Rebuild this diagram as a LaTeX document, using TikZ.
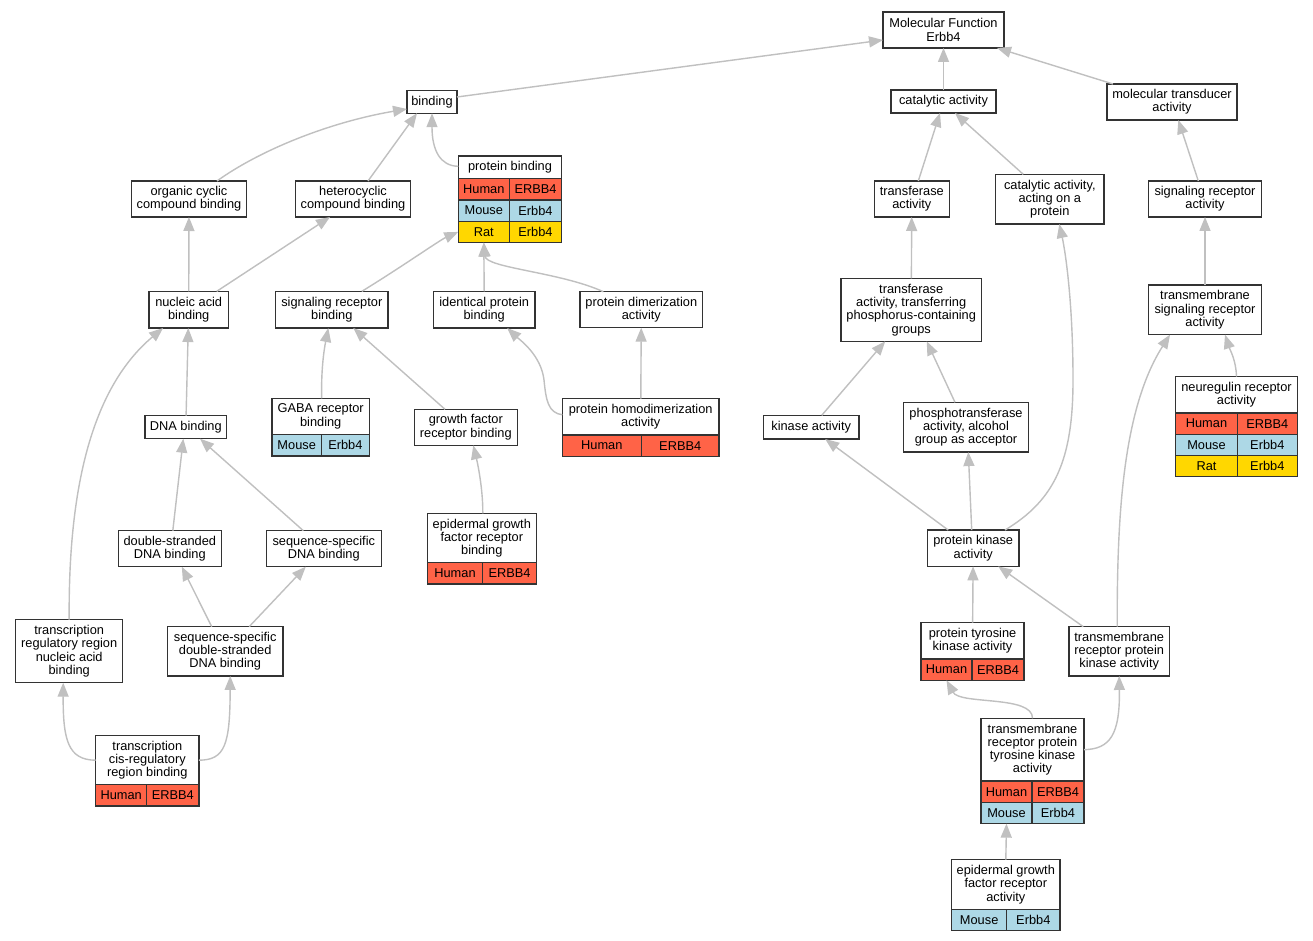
\documentclass[tikz,border=0pt]{standalone}
\usepackage{fontspec}
\setmainfont{Liberation Sans}
\usetikzlibrary{arrows.meta, positioning}
\definecolor{humanred}{HTML}{FF6347}
\definecolor{mouseblue}{HTML}{ADD8E6}
\definecolor{ratgold}{HTML}{FFD700}
\definecolor{isagray}{HTML}{C0C0C0}
\tikzset{
    term/.style={
        rectangle, draw=black!80, line width=1.2pt,
        fill=white, align=center, inner sep=1pt, outer sep=0pt,
        font=\fontsize{12.8}{13.3}\selectfont
    },
    cell/.style={term, minimum height=21.3pt, anchor=north west},
    human/.style={cell, fill=humanred},
    mouse/.style={cell, fill=mouseblue},
    rat/.style={cell, fill=ratgold},
    isa/.style={draw=isagray, line width=1.4pt, -{Triangle[length=14pt,width=11pt]}}
}

\begin{document}
\begin{tikzpicture}[x=1pt, y=-1pt]

\fill[white] (0,0) rectangle (1313,941);
\useasboundingbox (0,0) rectangle (1313,941);

% Root and first level
\node[term, minimum width=121pt, minimum height=36pt] (mf) at (943.5,30) {Molecular Function\\Erbb4};
\node[term, minimum width=105pt, minimum height=23pt] (cat) at (943.5,101.5) {catalytic activity};
\node[term, minimum width=130pt, minimum height=36pt] (mtrans) at (1172,102) {molecular transducer\\activity};
\node[term, minimum width=50pt, minimum height=22.5pt] (bind) at (432,102) {binding};

% Second level
\node[term, minimum width=115pt, minimum height=36pt] (orgcyc) at (189,199) {organic cyclic\\compound binding};
\node[term, minimum width=115pt, minimum height=36pt] (hetcyc) at (353,199) {heterocyclic\\compound binding};
\node[term, minimum width=75pt, minimum height=36pt] (transf) at (911.8,199) {transferase\\activity};
\node[term, minimum width=108.3pt, minimum height=49.7pt] (catprot) at (1049.8,199.2) {catalytic activity,\\acting on a\\protein};
\node[term, minimum width=112.6pt, minimum height=36pt] (sigract) at (1205,199) {signaling receptor\\activity};

% Protein binding table
\node[term, minimum width=103.4pt, minimum height=22.7pt] (pb) at (510,167.3) {protein binding};
\node[human, minimum width=51pt] (pbh) at (pb.south west) {Human};
\node[human, minimum width=52.4pt] (pbhg) at (pbh.north east) {ERBB4};
\node[mouse, minimum width=51pt] (pbm) at (pbh.south west) {Mouse};
\node[mouse, minimum width=52.4pt] (pbmg) at (pbm.north east) {Erbb4};
\node[rat, minimum width=51pt] (pbr) at (pbm.south west) {Rat};
\node[rat, minimum width=52.4pt] (pbrg) at (pbr.north east) {Erbb4};

% Third level
\node[term, minimum width=79.3pt, minimum height=36.7pt] (nucacid) at (188.7,309.7) {nucleic acid\\binding};
\node[term, minimum width=112.3pt, minimum height=36.7pt] (sigrbind) at (331.8,309.7) {signaling receptor\\binding};
\node[term, minimum width=101.7pt, minimum height=36.7pt] (identprot) at (484.2,309.7) {identical protein\\binding};
\node[term, minimum width=122.7pt, minimum height=36pt] (protdimer) at (641.3,309.7) {protein dimerization\\activity};
\node[term, minimum width=140.3pt, minimum height=63pt] (transphos) at (911.2,309.8) {transferase\\activity, transferring\\phosphorus-containing\\groups};
\node[term, minimum width=112.6pt, minimum height=49.7pt] (tmsigr) at (1205,309.8) {transmembrane\\signaling receptor\\activity};

% Fourth level
\node[term, minimum width=81.7pt, minimum height=23pt] (dnabind) at (185.8,427.2) {DNA binding};
\node[term, minimum width=97.3pt, minimum height=36.4pt] (gaba) at (320.7,416.5) {GABA receptor\\binding};
\node[mouse, minimum width=49.3pt] (gabam) at (gaba.south west) {Mouse};
\node[mouse, minimum width=48pt] (gabamg) at (gabam.north east) {Erbb4};
\node[term, minimum width=103pt, minimum height=36pt] (gfrb) at (465.8,427.3) {growth factor\\receptor binding};
\node[term, minimum width=156.7pt, minimum height=36.3pt] (homodim) at (640.7,416.8) {protein homodimerization\\activity};
\node[human, minimum width=79pt] (homodimh) at (homodim.south west) {Human};
\node[human, minimum width=77.7pt] (homodimhg) at (homodimh.north east) {ERBB4};
\node[term, minimum width=95.7pt, minimum height=23.7pt] (kinase) at (811.2,427.2) {kinase activity};
\node[term, minimum width=124.6pt, minimum height=49.7pt] (phostr) at (966,427.2) {phosphotransferase\\activity, alcohol\\group as acceptor};
\node[term, minimum width=121.6pt, minimum height=36.3pt] (nrg) at (1236.5,394.8) {neuregulin receptor\\activity};
\node[human, minimum width=61.6pt] (nrgh) at (nrg.south west) {Human};
\node[human, minimum width=60pt] (nrghg) at (nrgh.north east) {ERBB4};
\node[mouse, minimum width=61.6pt] (nrgm) at (nrgh.south west) {Mouse};
\node[mouse, minimum width=60pt] (nrgmg) at (nrgm.north east) {Erbb4};
\node[rat, minimum width=61.6pt] (nrgr) at (nrgm.south west) {Rat};
\node[rat, minimum width=60pt] (nrgrg) at (nrgr.north east) {Erbb4};

% Fifth level
\node[term, minimum width=103pt, minimum height=36pt] (dsdna) at (169.8,548.7) {double-stranded\\DNA binding};
\node[term, minimum width=115pt, minimum height=36pt] (ssdna) at (323.8,548.7) {sequence-specific\\DNA binding};
\node[term, minimum width=109pt, minimum height=49.4pt] (egfrb) at (481.8,538) {epidermal growth\\factor receptor\\binding};
\node[human, minimum width=55.4pt] (egfrbh) at (egfrb.south west) {Human};
\node[human, minimum width=53.6pt] (egfrbhg) at (egfrbh.north east) {ERBB4};
\node[term, minimum width=91.7pt, minimum height=36.3pt] (pka) at (973.2,548.2) {protein kinase\\activity};

% Sixth level
\node[term, minimum width=107pt, minimum height=63pt] (trrnab) at (69.2,651.2) {transcription\\regulatory region\\nucleic acid\\binding};
\node[term, minimum width=115.7pt, minimum height=49.3pt] (ssdsdna) at (225.2,651.3) {sequence-specific\\double-stranded\\DNA binding};
\node[term, minimum width=103pt, minimum height=36.3pt] (ptk) at (972.5,640.8) {protein tyrosine\\kinase activity};
\node[human, minimum width=51pt] (ptkh) at (ptk.south west) {Human};
\node[human, minimum width=52pt] (ptkhg) at (ptkh.north east) {ERBB4};
\node[term, minimum width=100.3pt, minimum height=49.3pt] (tmrpk) at (1119.2,651.3) {transmembrane\\receptor protein\\kinase activity};

% Bottom levels
\node[term, minimum width=103.3pt, minimum height=49pt] (tcrrb) at (147.3,760.2) {transcription\\cis-regulatory\\region binding};
\node[human, minimum width=51pt] (tcrrbh) at (tcrrb.south west) {Human};
\node[human, minimum width=52.3pt] (tcrrbhg) at (tcrrbh.north east) {ERBB4};
\node[term, minimum width=103pt, minimum height=62.7pt] (tmrptk) at (1032.5,749.7) {transmembrane\\receptor protein\\tyrosine kinase\\activity};
\node[human, minimum width=51pt] (tmrptkh) at (tmrptk.south west) {Human};
\node[human, minimum width=52pt] (tmrptkhg) at (tmrptkh.north east) {ERBB4};
\node[mouse, minimum width=51pt] (tmrptkm) at (tmrptkh.south west) {Mouse};
\node[mouse, minimum width=52pt] (tmrptkmg) at (tmrptkm.north east) {Erbb4};
\node[term, minimum width=108.3pt, minimum height=49.6pt] (egfra) at (1005.8,884.5) {epidermal growth\\factor receptor\\activity};
\node[mouse, minimum width=55pt] (egfram) at (egfra.south west) {Mouse};
\node[mouse, minimum width=53.3pt] (egframg) at (egfram.north east) {Erbb4};

% is_a edges
\draw[isa] ([yshift=5pt]bind.east) -- ([yshift=-10pt]mf.west);
\draw[isa] (cat) -- (mf);
\draw[isa] ([xshift=6pt]mtrans.north west) -- ([xshift=-7pt]mf.south east);
\draw[isa] ([xshift=28pt]orgcyc.north) .. controls (260,150) and (330,122) .. ([yshift=-7pt]bind.west);
\draw[isa] ([xshift=15pt]hetcyc.north) -- ([xshift=-15pt]bind.south);
\draw[isa] ([yshift=1pt]pb.west) .. controls (440,166) and (432,150) .. (bind.south);
\draw[isa] ([xshift=6.5pt]transf.north) -- ([xshift=-3.5pt]cat.south);
\draw[isa] ([xshift=-26.5pt]catprot.north) -- ([xshift=11.5pt]cat.south);
\draw[isa] ([xshift=-6.7pt]sigract.north) -- ([xshift=6.3pt]mtrans.south);
\draw[isa] (nucacid) -- (orgcyc);
\draw[isa] ([xshift=28pt]nucacid.north) -- ([xshift=-23pt]hetcyc.south);
\draw[isa] ([xshift=30pt]sigrbind.north) .. controls (400,268) and (440,240) .. (pbr.west);
\draw[isa] (identprot.north) -- (pbr.south);
\draw[isa] ([xshift=-38pt]protdimer.north) .. controls (560,272) and (486,268) .. (pbr.south);
\draw[isa] (transphos) -- (transf);
\draw[isa] ([xshift=31.8pt]pka.north) .. controls (1055,500) and (1073,460) .. (1073,380) .. controls (1073,300) and (1065,250) .. ([xshift=9.5pt]catprot.south);
\draw[isa] (tmsigr) -- (sigract);
\draw[isa] ([xshift=1pt]gaba.north) .. controls (321,370) and (324,350) .. ([xshift=-3.5pt]sigrbind.south);
\draw[isa] ([xshift=-20.8pt]gfrb.north) -- ([xshift=21.5pt]sigrbind.south);
\draw[isa] ([yshift=2pt]homodim.west) .. controls (548,413) and (546,400) .. (544,380) .. controls (541,355) and (520,340) .. ([xshift=23pt]identprot.south);
\draw[isa] (homodim) -- (protdimer);
\draw[isa] (dnabind) -- (nucacid);
\draw[isa] (trrnab.north) .. controls (68,480) and (95,385) .. ([xshift=14pt]nucacid.south west);
\draw[isa] ([xshift=10.5pt]kinase.north) -- ([xshift=-26pt]transphos.south);
\draw[isa] ([xshift=-11pt]phostr.north) -- ([xshift=15.5pt]transphos.south);
\draw[isa] ([xshift=3pt]dsdna.north) -- ([xshift=-2.5pt]dnabind.south);
\draw[isa] ([xshift=-20.5pt]ssdna.north) -- ([xshift=14.2pt]dnabind.south);
\draw[isa] ([xshift=1pt]egfrb.north) .. controls (483,490) and (478,465) .. ([xshift=7.5pt]gfrb.south);
\draw[isa] ([xshift=-25pt]pka.north) -- ([xshift=14pt]kinase.south);
\draw[isa] ([xshift=-1.5pt]pka.north) -- ([xshift=2.3pt]phostr.south);
\draw[isa] ([xshift=-36pt]tmrpk.north) -- ([xshift=25pt]pka.south);
\draw[isa] ([xshift=-2pt]tmrpk.north) .. controls (1117,520) and (1122,410) .. ([xshift=-35pt]tmsigr.south);
\draw[isa] (nrg.north) .. controls (1236,360) and (1230,350) .. ([xshift=20pt]tmsigr.south);
\draw[isa] (ptk) -- (pka);
\draw[isa] ([xshift=-13.5pt]ssdsdna.north) -- ([xshift=12pt]dsdna.south);
\draw[isa] ([xshift=24pt]ssdsdna.north) -- ([xshift=-18pt]ssdna.south);
\draw[isa] (tcrrb.west) .. controls (68,760) and (63,740) .. ([xshift=-6pt]trrnab.south);
\draw[isa] (tcrrb.east) .. controls (225,760) and (230,745) .. ([xshift=5pt]ssdsdna.south);
\draw[isa] (tmrptk.north) .. controls (1033,695) and (960,705) .. (ptkh.south);
\draw[isa] (tmrptk.east) .. controls (1110,749) and (1120,735) .. (tmrpk.south);
\draw[isa] (egfra.north) -- (tmrptkm.south);

\end{tikzpicture}
\end{document}
